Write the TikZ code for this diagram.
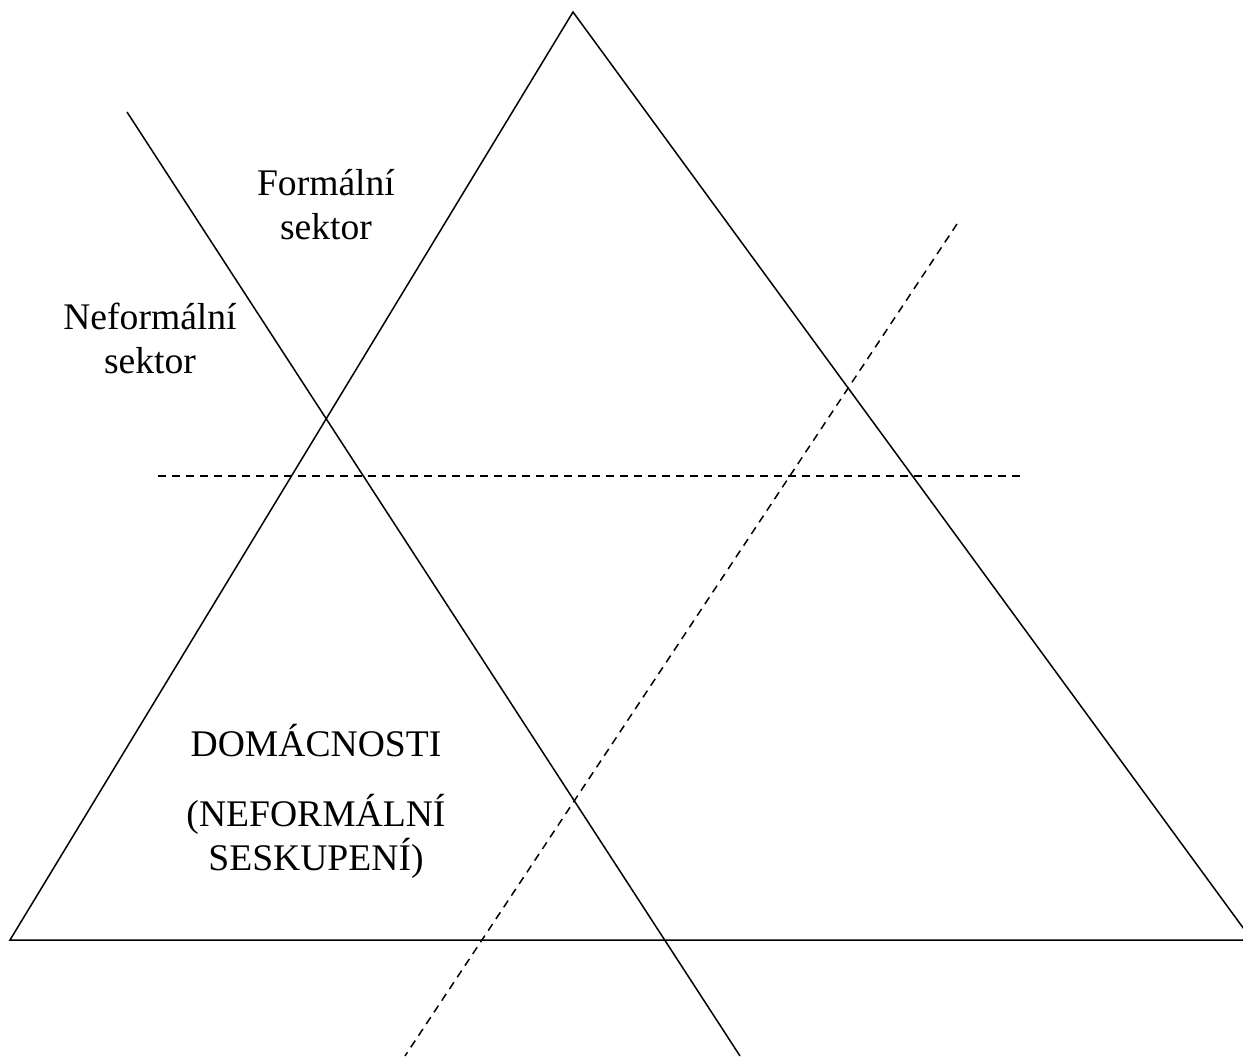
\documentclass[tikz,border=0pt]{standalone}
\usepackage{fontspec}
\setmainfont{Liberation Serif}
\usetikzlibrary{positioning}

\begin{document}
\begin{tikzpicture}[x=0.5pt, y=-0.5pt, line width=0.75pt, node distance=18pt,
  txt/.style={align=center, font=\fontsize{18.8}{22}\selectfont, inner sep=0pt},
  guide/.style={dash pattern=on 4pt off 3pt}]
  \useasboundingbox (0,0) rectangle (1243,1058);
  % pyramid
  \coordinate (apex) at (573,12);
  \coordinate (left) at (10,940);
  \coordinate (right) at (1252,940);
  \draw (left) -- (apex) -- (right) -- cycle;
  % dividing lines
  \coordinate (s1) at (127,112);
  \coordinate (s2) at (740,1056);
  \draw (s1) -- (s2);
  \coordinate (h1) at (158,476);
  \coordinate (h2) at (1022,476);
  \draw[guide] (h1) -- (h2);
  \coordinate (d1) at (957,224);
  \coordinate (d2) at (405,1056);
  \draw[guide] (d1) -- (d2);
  % texts
  \node[txt] (formal) at (326,205) {Formální\\sektor};
  \node[txt] (informal) at (150,338) {Neformální\\sektor};
  \node[txt, anchor=base] (dom) at (316,756) {DOMÁCNOSTI};
  \node[txt, below=of dom] (group) {(NEFORMÁLNÍ\\SESKUPENÍ)};
\end{tikzpicture}
\end{document}
